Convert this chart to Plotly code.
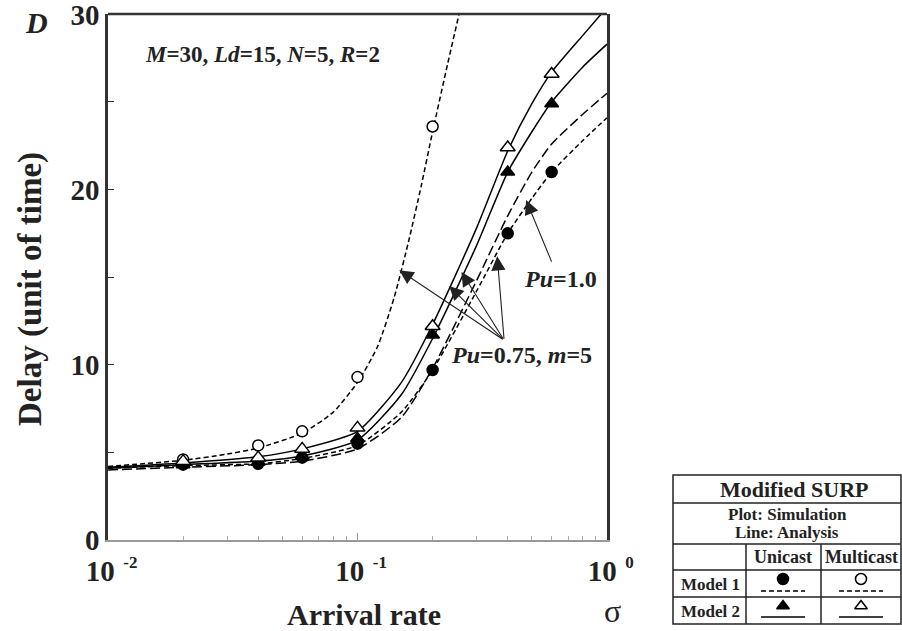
import math
import plotly.graph_objects as go

W, H = 902, 631
FONT = "Liberation Serif, Times New Roman, serif"

# ---- simulation points (arrival rate sigma vs delay D) ----
sim_x = [0.02, 0.04, 0.06, 0.1, 0.2, 0.4, 0.6]
m1_multicast_pts_x = [0.02, 0.04, 0.06, 0.1, 0.2]
m1_multicast_pts = [4.6, 5.4, 6.2, 9.3, 23.6]
m1_unicast_pts = [4.3, 4.35, 4.7, 5.5, 9.7, 17.5, 21.0]
m2_unicast_pts = [4.3, 4.45, 4.8, 5.8, 11.7, 21.0, 24.9]
m2_multicast_pts = [4.5, 4.7, 5.2, 6.4, 12.2, 22.4, 26.6]

# ---- analysis curves ----
m1_multicast_x = [0.01, 0.02, 0.03, 0.04, 0.06, 0.08, 0.1, 0.12, 0.14, 0.16, 0.18, 0.2, 0.23, 0.26]
m1_multicast_line = [4.2, 4.55, 4.9, 5.25, 6.1, 7.3, 9.0, 11.0, 13.8, 17.0, 20.2, 23.3, 27.2, 30.5]

ana_x = [0.01, 0.02, 0.04, 0.06, 0.1, 0.15, 0.2, 0.3, 0.4, 0.5, 0.6, 0.8, 1.0]
m2_multicast_line = [4.15, 4.4, 4.75, 5.2, 6.2, 9.0, 12.3, 17.8, 22.2, 24.9, 26.7, 28.8, 30.4]
m2_unicast_line = [4.1, 4.3, 4.5, 4.8, 5.7, 8.3, 11.5, 16.8, 21.0, 23.3, 25.0, 27.0, 28.3]
pu075_unicast_line = [4.0, 4.15, 4.3, 4.5, 5.2, 7.0, 9.8, 14.8, 18.5, 21.0, 22.6, 24.3, 25.5]
m1_unicast_line = [4.1, 4.25, 4.35, 4.65, 5.4, 7.3, 9.7, 14.2, 17.5, 19.5, 21.0, 22.8, 24.1]

x_ticks = [0.01, 0.1, 1]
x_tick_text = ["&nbsp;10<sup><span style='font-size:17px'>  -2</span></sup>",
               "&nbsp;10<sup><span style='font-size:17px'>  -1</span></sup>",
               "&nbsp;10<sup><span style='font-size:17px'>  0</span></sup>"]
x_minor = [m * 10.0 ** e for e in (-2, -1) for m in range(2, 10)]
y_ticks = [0, 10, 20, 30]

SHORT = "5px,3px"
LONG = "10px,4px"

fig = go.Figure()

def line(x, y, dash):
    fig.add_trace(go.Scatter(x=x, y=y, mode="lines",
                             line=dict(color="black", width=1.5, dash=dash, shape="spline", smoothing=0.6),
                             showlegend=False, hoverinfo="skip"))

line(m1_multicast_x, m1_multicast_line, SHORT)
line(ana_x, m2_multicast_line, "solid")
line(ana_x, m2_unicast_line, "solid")
line(ana_x, pu075_unicast_line, LONG)
line(ana_x, m1_unicast_line, SHORT)

def pts(x, y, symbol, filled, size, xaxis="x", yaxis="y"):
    fig.add_trace(go.Scatter(x=x, y=y, mode="markers", xaxis=xaxis, yaxis=yaxis,
                             marker=dict(symbol=symbol, size=size, color="black" if filled else "white",
                                         line=dict(color="black", width=1.5)),
                             showlegend=False, hoverinfo="skip", cliponaxis=False))

pts(m1_multicast_pts_x, m1_multicast_pts, "circle", False, 11)
pts(sim_x, m1_unicast_pts, "circle", True, 11)
pts(sim_x, m2_unicast_pts, "triangle-up", True, 12)
pts(sim_x, m2_multicast_pts, "triangle-up", False, 13)

# ---- layout / axes ----
px = lambda v: v / W
py = lambda v: 1 - v / H

fig.update_layout(
    width=W, height=H, margin=dict(l=0, r=0, t=0, b=0, autoexpand=False),
    paper_bgcolor="white", plot_bgcolor="white",
    font=dict(family=FONT, color="#222"),
    xaxis=dict(type="log", domain=[px(108), px(607)], range=[-2, 0], automargin=False,
               tickvals=x_ticks, ticktext=x_tick_text, ticklabeloverflow="allow",
               tickfont=dict(size=29, family=FONT, weight="bold", color="#222"),
               ticks="inside", ticklen=7, tickcolor="#999",
               minor=dict(tickvals=x_minor, ticks="inside", ticklen=4, tickcolor="#aaa"),
               showline=True, linecolor="#999", linewidth=1.5, mirror=False,
               showgrid=False, zeroline=False, ticklabelstandoff=4),
    yaxis=dict(domain=[py(540), py(14)], range=[0, 30.02], automargin=False,
               tickvals=y_ticks, ticklabeloverflow="allow",
               tickfont=dict(size=29, family=FONT, weight="bold", color="#222"),
               ticks="inside", ticklen=6, tickcolor="#333",
               minor=dict(dtick=5, ticks="inside", ticklen=6, tickcolor="#333"),
               showline=True, linecolor="#333", linewidth=2.5, mirror=True,
               showgrid=False, zeroline=False),
    xaxis2=dict(domain=[px(673), px(901)], range=[673, 901], anchor="y2",
                visible=False, fixedrange=True, automargin=False),
    yaxis2=dict(domain=[py(624), py(475)], range=[624, 475], anchor="x2",
                visible=False, fixedrange=True, automargin=False),
)

# top border of the plotting frame
fig.add_shape(type="line", xref="paper", yref="paper", x0=px(108), x1=px(607),
              y0=py(14), y1=py(14), line=dict(color="#333", width=2.5))

ann = []
def text(x, y, t, size, bold=True, **kw):
    f = dict(family=FONT, size=size, color="#222")
    if bold:
        f["weight"] = "bold"
    ann.append(dict(x=px(x), y=py(y), xref="paper", yref="paper", text=t, showarrow=False,
                    xanchor="center", yanchor="middle", font=f, **kw))

text(36, 22, "<i>D</i>", 30)
text(612, 611, "σ", 32, bold=False)
text(364, 614, "Arrival rate", 30)
text(30, 289, "Delay (unit of time)", 33, textangle=-90)
text(262, 55, "<i>M</i>=30, <i>Ld</i>=15, <i>N</i>=5, <i>R</i>=2", 23)
text(560, 279, "<i>Pu</i>=1.0", 24)
text(521, 355, "<i>Pu</i>=0.75, <i>m</i>=5", 24)

# arrows pointing to the analysis curves (data coordinates, log10 for x)
tail_075 = (0.387, 11.4)
tips_075 = [(0.147, 15.4), (0.233, 14.5), (0.261, 15.3), (0.363, 16.2)]
arrow_style = dict(xref="x", yref="y", axref="x", ayref="y", text="", showarrow=True,
                   arrowhead=2, arrowsize=2.6, arrowwidth=1.1, arrowcolor="#222")
for tx, ty in tips_075:
    ann.append(dict(x=math.log10(tx), y=ty, ax=math.log10(tail_075[0]), ay=tail_075[1], **arrow_style))
ann.append(dict(x=math.log10(0.474), y=19.4, ax=math.log10(0.603), ay=15.8, **arrow_style))

# ---- key table ----
rows = [475, 503, 544, 570, 597, 624]
cols = [673, 746, 821, 901]
tbl = dict(color="#222", width=1.5)
fig.add_shape(type="rect", xref="paper", yref="paper", x0=px(673), x1=px(901), y0=py(475), y1=py(624), line=tbl)
for r in rows[1:-1]:
    fig.add_shape(type="line", xref="paper", yref="paper", x0=px(673), x1=px(901), y0=py(r), y1=py(r), line=tbl)
for c in cols[1:-1]:
    fig.add_shape(type="line", xref="paper", yref="paper", x0=px(c), x1=px(c), y0=py(544), y1=py(624), line=tbl)

text(794, 489, "Modified SURP", 22)
text(787, 514, "Plot: Simulation", 17)
text(787, 532, "Line: Analysis", 17)
text(783, 557, "Unicast", 18)
text(861, 557, "Multicast", 18)
text(710, 584, "Model 1", 17)
text(710, 611, "Model 2", 17)

fig.update_layout(annotations=ann)

# key symbols drawn on the table's own pixel-scaled axes
key_cells = [(783, 579, 591, "circle", True, SHORT), (861, 579, 591, "circle", False, SHORT),
             (783, 606, 617, "triangle-up", True, "solid"), (861, 606, 617, "triangle-up", False, "solid")]
for cx, my, ly, sym, filled, dash in key_cells:
    fig.add_trace(go.Scatter(x=[cx - 22, cx + 22], y=[ly, ly], xaxis="x2", yaxis="y2", mode="lines",
                             line=dict(color="black", width=1.5, dash=dash),
                             showlegend=False, hoverinfo="skip"))
    pts([cx], [my], sym, filled, 11, xaxis="x2", yaxis="y2")

fig.write_html("out.html")
